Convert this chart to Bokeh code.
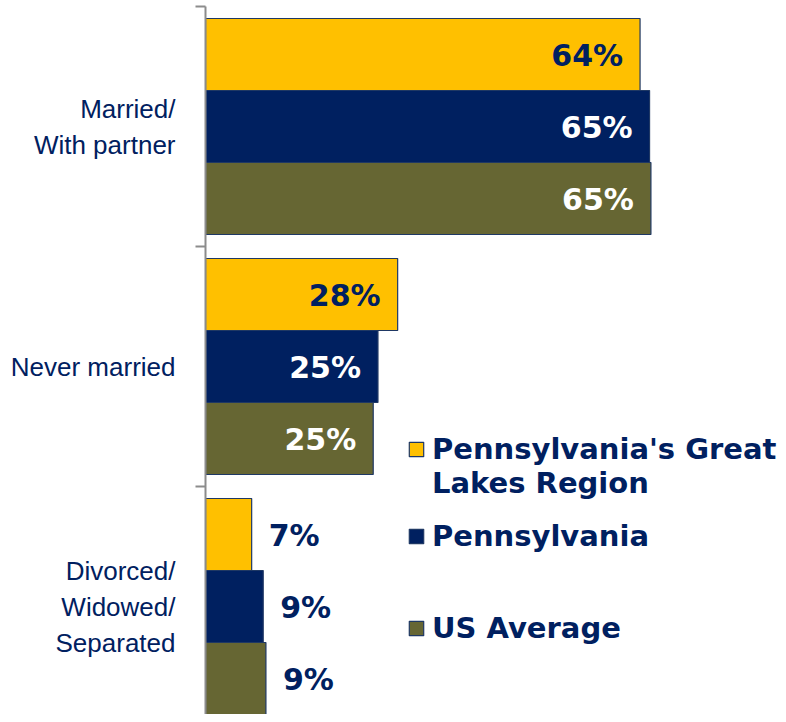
from bokeh.plotting import figure
from bokeh.models import Range1d, FixedTicker, ColumnDataSource, Legend, LegendItem
from bokeh.embed import file_html
from bokeh.resources import INLINE
from bokeh.core.properties import value

# ---- data ----
categories = ["Married/\nWith partner", "Never married", "Divorced/\nWidowed/\nSeparated"]
series_names = ["Pennsylvania's Great\nLakes Region", "Pennsylvania", "US Average"]
great_lakes = [64.0, 28.3, 6.8]
pennsylvania = [65.4, 25.4, 8.5]
us_average = [65.6, 24.7, 8.9]
great_lakes_labels = ["64%", "28%", "7%"]
pennsylvania_labels = ["65%", "25%", "9%"]
us_average_labels = ["65%", "25%", "9%"]

# ---- styles ----
fill_colors = ["#FFC000", "#002060", "#666633"]
inside_text_colors = ["#002060", "#FFFFFF", "#FFFFFF"]
navy = "#002060"
offsets = [-0.3, 0.0, 0.3]
bar_h = 0.3
cat_pos = [1, 2, 3]

W, H = 778, 714
BL, BT = 205, 6
p = figure(width=W, height=H,
           x_range=Range1d(0, (W - BL) / 6.79), y_range=Range1d(0.5 + (H - BT) / 240, 0.5),
           output_backend="svg", toolbar_location=None, x_axis_location=None,
           min_border_left=BL, min_border_right=0, min_border_top=BT, min_border_bottom=0,
           outline_line_color=None)
p.xgrid.visible = False
p.ygrid.visible = False

ax = p.yaxis[0]
ax.ticker = FixedTicker(ticks=cat_pos, minor_ticks=[0.5, 1.5, 2.5, 3.5])
ax.major_label_overrides = {c: lab for c, lab in zip(cat_pos, categories)}
ax.major_tick_line_color = None
ax.major_tick_out = 0
ax.major_tick_in = 0
ax.minor_tick_out = 10
ax.minor_tick_in = 0
ax.minor_tick_line_color = "#8C8C8C"
ax.minor_tick_line_width = 2
ax.axis_line_color = "#8C8C8C"
ax.axis_line_width = 2
ax.major_label_standoff = 20
ax.major_label_text_font = "Liberation Sans"
ax.major_label_text_font_size = "26px"
ax.major_label_text_color = navy

all_vals = [great_lakes, pennsylvania, us_average]
all_labels = [great_lakes_labels, pennsylvania_labels, us_average_labels]
renderers = []
for k in range(3):
    ys = [c + offsets[k] for c in cat_pos]
    src = ColumnDataSource(dict(y=ys, right=all_vals[k]))
    r = p.hbar(y="y", right="right", left=0, height=bar_h, source=src,
               fill_color=fill_colors[k], line_color="#1F3864", line_width=1.2)
    renderers.append(r)
    ins = dict(x=[], y=[], t=[])
    outs = dict(x=[], y=[], t=[])
    for v, yv, lab in zip(all_vals[k], ys, all_labels[k]):
        d = ins if v > 15 else outs
        d["x"].append(v); d["y"].append(yv); d["t"].append(lab)
    p.text(x="x", y="y", text="t", source=ColumnDataSource(ins),
           text_align="right", text_baseline="middle", x_offset=-17, y_offset=1,
           text_font=value("DejaVu Sans"), text_font_style="bold",
           text_font_size="30px", text_color=inside_text_colors[k])
    p.text(x="x", y="y", text="t", source=ColumnDataSource(outs),
           text_align="left", text_baseline="middle", x_offset=17, y_offset=1,
           text_font=value("DejaVu Sans"), text_font_style="bold",
           text_font_size="30px", text_color=navy)

# one legend box per entry so each marker sits on its entry's first line
legend_labels = ["\n" + series_names[0], series_names[1], series_names[2]]
legend_locs = [(202, 214), (202, 161), (202, 69)]
for k in range(3):
    lg = Legend(items=[LegendItem(label=legend_labels[k], renderers=[renderers[k]])],
                location=legend_locs[k], padding=0, margin=0, spacing=0,
                glyph_width=18, glyph_height=18, label_standoff=7,
                background_fill_alpha=0, border_line_color=None,
                label_text_font="DejaVu Sans", label_text_font_style="bold",
                label_text_font_size="29px", label_text_color=navy,
                label_text_line_height=1.38)
    p.add_layout(lg)

open("out.html", "w").write(file_html(p, INLINE))
